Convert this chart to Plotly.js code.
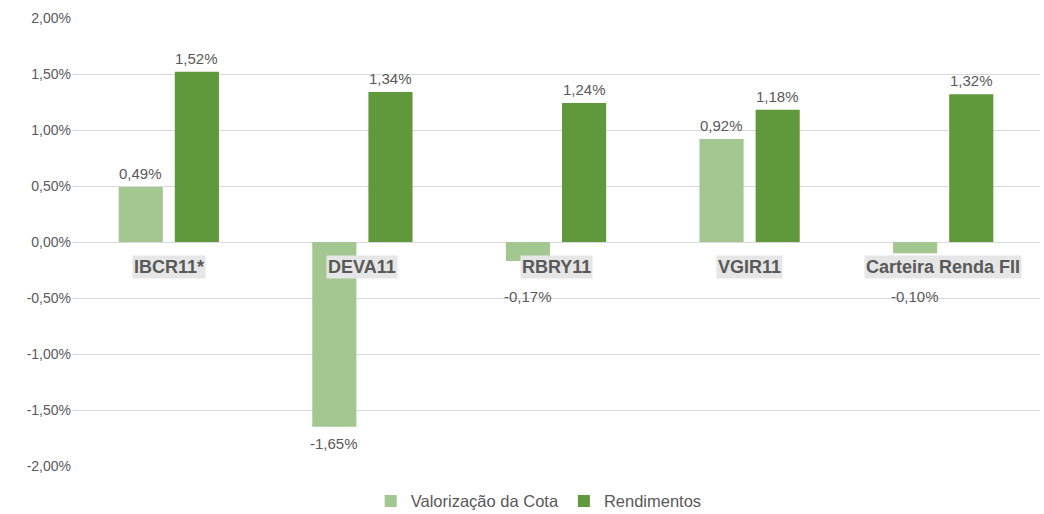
<!DOCTYPE html>
<html><head><meta charset="utf-8">
<script src="https://cdn.plot.ly/plotly-3.0.1.min.js"></script>
<style>html,body{margin:0;padding:0;background:#fff}#c{width:1044px;height:514px}</style>
</head><body><div id="c"></div>
<script>
const categories = ["IBCR11*", "DEVA11", "RBRY11", "VGIR11", "Carteira Renda FII"];
const valorizacao = [0.49, -1.65, -0.17, 0.92, -0.10];
const rendimentos = [1.52, 1.34, 1.24, 1.18, 1.32];
const seriesNames = ["Valorização da Cota", "Rendimentos"];
const tickVals = [-2, -1.5, -1, -0.5, 0, 0.5, 1, 1.5, 2];

const fmt = v => v.toFixed(2).replace('.', ',') + '%';
const lightC = '#a2c790', darkC = '#5f993b', txtC = '#595959';
const FF = 'Liberation Sans, Arial';

const traces = [
  {type:'bar', name:seriesNames[0], x:categories, y:valorizacao, marker:{color:lightC}, hoverinfo:'none'},
  {type:'bar', name:seriesNames[1], x:categories, y:rendimentos, marker:{color:darkC}, hoverinfo:'none'}
];

const ann = [];
categories.forEach((c,i)=>{
  ann.push({x:c, y:0, xref:'x', yref:'y', text:'<b>'+c+'</b>', showarrow:false, yanchor:'top', yshift:-13,
    bgcolor:'#e6e6e6', borderpad:1, font:{family:FF, size:18, color:txtC}});
  [valorizacao, rendimentos].forEach((arr,s)=>{
    const v = arr[i];
    const small = v < 0 && v > -0.5;
    ann.push({x:c, y:v, xref:'x', yref:'y', text:fmt(v), showarrow:false,
      xshift: s===0 ? -28 : 28,
      yanchor: v>=0 ? 'bottom' : 'top',
      yshift: v>=0 ? 3 : (small ? -(44 - (-v)*112) : -6),
      font:{family:FF, size:15, color:txtC}});
  });
});

const layout = {
  width:1044, height:514,
  margin:{l:72, r:4, t:18, b:48},
  paper_bgcolor:'#fff', plot_bgcolor:'#fff',
  barmode:'group', bargap:0.42, bargroupgap:0.214,
  font:{family:FF, color:txtC},
  xaxis:{showticklabels:false, showgrid:false, zeroline:false, showline:false, ticks:''},
  yaxis:{range:[-2,2], tickvals:tickVals, ticktext:tickVals.map(fmt), gridcolor:'#d9d9d9', gridwidth:1,
    zeroline:true, zerolinecolor:'#d9d9d9', zerolinewidth:1, showline:false, ticks:'', ticklen:0,
    tickfont:{family:FF, size:14, color:txtC}, automargin:false},
  legend:{orientation:'h', xref:'container', yref:'container', x:0.516, xanchor:'center', y:0.059, yanchor:'top',
    font:{family:FF, size:16.5, color:txtC}, traceorder:'normal'},
  annotations:ann,
  showlegend:true
};
Plotly.newPlot('c', traces, layout, {displayModeBar:false, staticPlot:true});
</script></body></html>
